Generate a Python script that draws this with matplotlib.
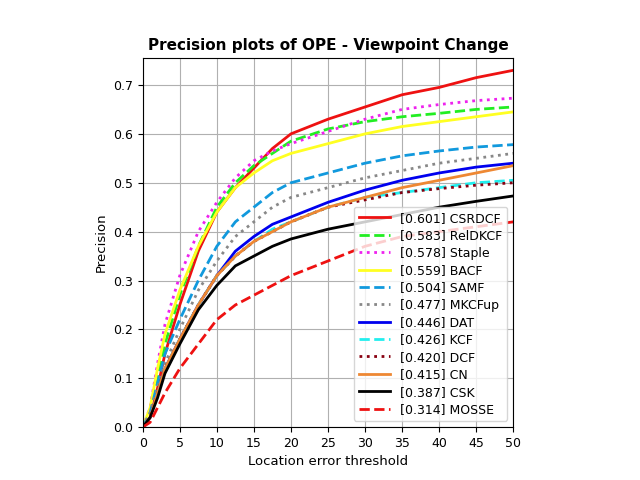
import matplotlib
matplotlib.use("Agg")
import matplotlib.pyplot as plt
import numpy as np

x = [0, 1, 2, 3, 5, 7.5, 10, 12.5, 15, 17.5, 20, 25, 30, 35, 40, 45, 50]
names = ["[0.601] CSRDCF", "[0.583] RelDKCF", "[0.578] Staple", "[0.559] BACF", "[0.504] SAMF",
         "[0.477] MKCFup", "[0.446] DAT", "[0.426] KCF", "[0.420] DCF", "[0.415] CN",
         "[0.387] CSK", "[0.314] MOSSE"]
vals = [
 [0, 0.02, 0.08, 0.15, 0.25, 0.36, 0.44, 0.49, 0.53, 0.57, 0.60, 0.63, 0.655, 0.68, 0.695, 0.715, 0.73],
 [0, 0.03, 0.10, 0.17, 0.27, 0.37, 0.45, 0.50, 0.535, 0.56, 0.585, 0.61, 0.625, 0.635, 0.642, 0.65, 0.655],
 [0, 0.04, 0.13, 0.21, 0.31, 0.40, 0.46, 0.51, 0.545, 0.565, 0.58, 0.605, 0.63, 0.65, 0.66, 0.668, 0.673],
 [0, 0.04, 0.12, 0.19, 0.28, 0.37, 0.44, 0.49, 0.52, 0.545, 0.56, 0.58, 0.60, 0.615, 0.625, 0.635, 0.645],
 [0, 0.03, 0.09, 0.15, 0.22, 0.30, 0.37, 0.42, 0.45, 0.48, 0.50, 0.52, 0.54, 0.555, 0.565, 0.573, 0.578],
 [0, 0.03, 0.08, 0.13, 0.20, 0.28, 0.34, 0.39, 0.42, 0.45, 0.47, 0.49, 0.51, 0.525, 0.54, 0.55, 0.56],
 [0, 0.02, 0.07, 0.12, 0.18, 0.25, 0.31, 0.36, 0.39, 0.415, 0.43, 0.46, 0.485, 0.505, 0.52, 0.532, 0.54],
 [0, 0.02, 0.07, 0.12, 0.18, 0.25, 0.31, 0.35, 0.38, 0.405, 0.42, 0.45, 0.47, 0.48, 0.49, 0.50, 0.505],
 [0, 0.02, 0.07, 0.12, 0.18, 0.25, 0.31, 0.35, 0.38, 0.40, 0.42, 0.45, 0.465, 0.48, 0.488, 0.495, 0.50],
 [0, 0.02, 0.07, 0.12, 0.18, 0.25, 0.31, 0.35, 0.38, 0.40, 0.42, 0.45, 0.47, 0.49, 0.505, 0.52, 0.535],
 [0, 0.02, 0.06, 0.11, 0.17, 0.24, 0.29, 0.33, 0.35, 0.37, 0.385, 0.405, 0.42, 0.435, 0.45, 0.462, 0.473],
 [0, 0.01, 0.04, 0.07, 0.12, 0.17, 0.22, 0.25, 0.27, 0.29, 0.31, 0.34, 0.37, 0.39, 0.40, 0.41, 0.42],
]
colors = ["#ee1111", "#22ee22", "#ee22ee", "#ffff22", "#1199dd", "#888888", "#0000ee",
          "#22eeee", "#880011", "#ee8833", "#000000", "#ee1111"]
styles = ["-", "--", ":", "-", "--", ":", "-", "--", ":", "-", "-", "--"]

fig = plt.figure(figsize=(6.4, 4.8), dpi=100)
ax = fig.add_axes([0.223, 0.110, 0.579, 0.769])
for n, v, c, s in zip(names, vals, colors, styles):
    ax.plot(x, v, color=c, linestyle=s, linewidth=2, label=n)
ax.set_xlim(0, 50)
ax.set_ylim(0, 0.755)
ax.set_xticks(range(0, 51, 5))
ax.set_yticks(np.arange(0, 0.71, 0.1))
ax.tick_params(labelsize=9)
ax.grid(True, color="#b0b0b0")
ax.set_xlabel("Location error threshold", fontsize=9.5)
ax.set_ylabel("Precision", fontsize=9.5)
ax.set_title("Precision plots of OPE - Viewpoint Change", fontweight="bold", fontsize=11)
ax.legend(loc="lower right", fontsize=9, handlelength=2.5, labelspacing=0.35)
fig.savefig("out.png")
